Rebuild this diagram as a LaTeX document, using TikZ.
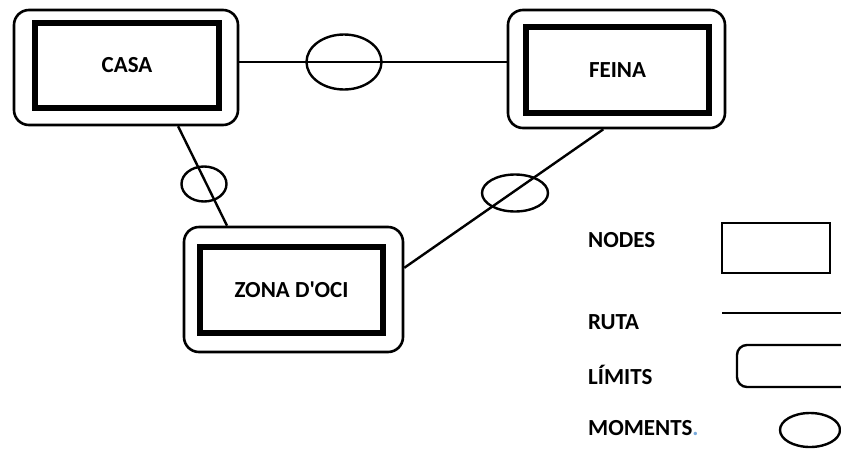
\documentclass[tikz,border=0pt]{standalone}
\usepackage{fontspec}
\setmainfont{Carlito}[Ligatures=TeXOff]
\usetikzlibrary{shapes.geometric,calc}
\definecolor{dotblue}{RGB}{120,170,220}
\begin{document}
\begin{tikzpicture}[x=1pt,y=-1pt,
    limitbox/.style={draw, rounded corners=15pt, line width=2.6pt, inner sep=0pt},
    nodebox/.style={draw, line width=5.5pt, inner sep=0pt, font=\fontsize{23}{27}\selectfont\bfseries},
    moment/.style={draw, ellipse, line width=2.4pt, inner sep=0pt},
    route/.style={draw, line width=2.4pt},
    legtext/.style={anchor=west, inner sep=0pt, font=\fontsize{23}{27}\selectfont\bfseries}]
        \clip (0,0) rectangle (841,448);
        \fill[white] (0,0) rectangle (841,448);
        % limits
        \node[limitbox, minimum width=224pt, minimum height=115pt] (1) at (126,67.5) {};
        \node[limitbox, minimum width=217pt, minimum height=118pt] (2) at (616.5,69) {};
        \node[limitbox, minimum width=219pt, minimum height=125pt] (3) at (293.5,289.5) {};
        % nodes
        \node[nodebox, minimum width=184pt, minimum height=85pt] (n1) at (127,65.5) {CASA};
        \node[nodebox, minimum width=183pt, minimum height=86pt] (n2) at (617.5,70) {FEINA};
        \node[nodebox, minimum width=183pt, minimum height=86pt] (n3) at (291.5,290) {ZONA D'OCI};
        % moments
        \node[moment, minimum width=75pt, minimum height=55pt] (m1) at (344,62) {};
        \node[moment, minimum width=45pt, minimum height=35pt] (m2) at (204,184) {};
        \node[moment, minimum width=66pt, minimum height=37pt] (m3) at (515,193) {};
        % routes
        \path[route] (1.east |- m1) -- (2.west |- m1);
        \path[route] ($(1.south west)!0.73!(1.south east)$) -- ($(3.north west)!0.2!(3.north east)$);
        \path[route] ($(2.south west)!0.44!(2.south east)$) -- ($(3.north east)!0.33!(3.south east)$);

        % legend
        \node[legtext] (t1) at (588,240) {NODES};
        \node[legtext] (t2) at (588,322) {RUTA};
        \node[legtext] (t3) at (588,375) {LÍMITS};
        \node[legtext] (t4) at (588,428) {MOMENTS{\color{dotblue}.}};
        \node[draw, line width=2.4pt, minimum width=108pt, minimum height=50pt, inner sep=0pt] (k1) at (776,248) {};
        \coordinate (k2a) at (722,313);
        \coordinate (k2b) at (845,313);
        \path[route] (k2a) -- (k2b);
        \node[limitbox, line width=2.4pt, rounded corners=10pt, minimum width=116pt, minimum height=42pt] (k3) at (795,366) {};
        \node[moment, minimum width=60pt, minimum height=34pt] (k4) at (810,430) {};
\end{tikzpicture}
\end{document}
